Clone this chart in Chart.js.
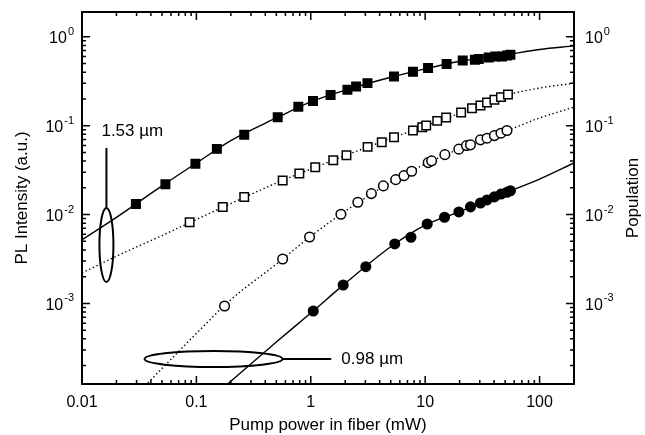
<!DOCTYPE html>
<html>
<head>
<meta charset="utf-8">
<script src="https://cdn.jsdelivr.net/npm/chart.js@4.4.0/dist/chart.umd.min.js"></script>
<style>
  html, body { margin: 0; padding: 0; background: #fff; }
</style>
</head>
<body>
<canvas id="plChart" width="645" height="435"></canvas>
<script>
// measured PL points (pump power mW, intensity a.u.)
const sqFilledP = [0.0296, 0.0536, 0.098, 0.151, 0.262, 0.514, 0.778, 1.045, 1.49, 2.09, 2.49, 3.13, 5.34, 7.82, 10.6, 15.4, 21.3, 27.2, 29.4, 35.9, 41.1, 46.9, 51.9, 55.6];
const sqFilledI = [0.0131, 0.0219, 0.0372, 0.0548, 0.0788, 0.1247, 0.163, 0.189, 0.221, 0.253, 0.276, 0.301, 0.357, 0.403, 0.444, 0.493, 0.541, 0.551, 0.561, 0.585, 0.600, 0.600, 0.616, 0.627];

const sqOpenP = [0.0873, 0.170, 0.262, 0.568, 0.794, 1.094, 1.571, 2.051, 3.139, 4.173, 5.342, 7.82, 9.43, 10.21, 12.74, 15.26, 20.62, 25.7, 30.42, 34.73, 40.29, 45.99, 52.92];
const sqOpenI = [0.00819, 0.01218, 0.01578, 0.02409, 0.02888, 0.03409, 0.04089, 0.04654, 0.05771, 0.06521, 0.07422, 0.0881, 0.0962, 0.1003, 0.1132, 0.1234, 0.1405, 0.1574, 0.1684, 0.182, 0.1952, 0.2094, 0.224];

const circOpenP = [0.1763, 0.5678, 0.976, 1.834, 2.578, 3.387, 4.31, 5.526, 6.53, 7.62, 10.63, 11.38, 14.86, 19.68, 22.97, 24.89, 30.42, 34.73, 40.29, 45.99, 51.88];
const circOpenI = [9.35e-4, 3.16e-3, 5.59e-3, 0.01008, 0.01376, 0.0172, 0.021, 0.0247, 0.0274, 0.0307, 0.0384, 0.0402, 0.0472, 0.0544, 0.0597, 0.0608, 0.0692, 0.0723, 0.0773, 0.0823, 0.0881];

const circFilledP = [1.051, 1.92, 3.027, 5.42, 7.51, 10.42, 14.77, 19.7, 24.9, 30.4, 34.7, 40.3, 46.0, 51.9, 55.6];
const circFilledI = [8.21e-4, 1.61e-3, 2.59e-3, 4.67e-3, 5.55e-3, 7.83e-3, 9.32e-3, 0.0107, 0.0122, 0.0135, 0.0146, 0.0158, 0.017, 0.0178, 0.0185];

// model curves (population)
const fitABP = [0.01, 0.02, 0.05, 0.1, 0.2, 0.5, 1, 2, 5, 10, 20, 50, 100, 200];
const fitA = [0.0052, 0.0093, 0.021, 0.038, 0.068, 0.122, 0.185, 0.25, 0.35, 0.435, 0.53, 0.625, 0.72, 0.79];
const fitB = [0.0022, 0.0034, 0.0058, 0.0088, 0.0133, 0.0226, 0.0325, 0.046, 0.072, 0.099, 0.138, 0.218, 0.265, 0.30];
const fitCP = [0.03, 0.05, 0.1, 0.2, 0.5, 1, 2, 5, 10, 20, 50, 100, 200];
const fitC = [9.5e-5, 1.85e-4, 4.6e-4, 1.1e-3, 2.77e-3, 5.7e-3, 0.0109, 0.0231, 0.037, 0.0549, 0.086, 0.122, 0.1615];
const fitDP = [0.15, 0.2, 0.5, 1, 2, 5, 10, 20, 50, 100, 200];
const fitD = [9.7e-5, 1.33e-4, 3.68e-4, 7.8e-4, 1.68e-3, 4.34e-3, 7.6e-3, 0.0108, 0.0175, 0.025, 0.038];

const xTickLabels = ['0.01', '0.1', '1', '10', '100'];
const yExponents = [-3, -2, -1, 0];

const FONT = "'Liberation Sans', Arial, Helvetica, sans-serif";

function pts(xs, ys) {
  return xs.map((x, i) => ({ x: x, y: ys[i] }));
}

function isDecade(v) {
  const l = Math.log10(v);
  return Math.abs(l - Math.round(l)) < 1e-6;
}

function markers(xs, ys, style, filled, r) {
  return {
    data: pts(xs, ys),
    showLine: false,
    pointStyle: style,
    pointRadius: r,
    pointBackgroundColor: filled ? '#000' : '#fff',
    pointBorderColor: '#000',
    pointBorderWidth: 1.5,
    order: 1,
    yAxisID: 'y'
  };
}

function curve(xs, ys, dotted) {
  return {
    data: pts(xs, ys),
    showLine: true,
    pointRadius: 0,
    borderColor: '#000',
    borderWidth: 1.4,
    borderDash: dotted ? [1.4, 2.6] : [],
    cubicInterpolationMode: 'monotone',
    order: 2,
    yAxisID: 'y2'
  };
}

// frame, inward ticks, superscript labels, titles and the two ellipse callouts
const overlay = {
  id: 'overlay',
  afterDraw(chart) {
    const { ctx, chartArea: a } = chart;
    const x = chart.scales.x, y = chart.scales.y;
    ctx.save();
    ctx.strokeStyle = '#000';
    ctx.fillStyle = '#000';

    ctx.lineWidth = 2;
    ctx.strokeRect(a.left, a.top, a.right - a.left, a.bottom - a.top);

    ctx.lineWidth = 1.5;
    ctx.beginPath();
    for (let d = -2; d <= 2; d++) {
      for (let k = 1; k <= 9; k++) {
        const v = k * Math.pow(10, d);
        if (v < x.min || v > x.max) continue;
        const px = x.getPixelForValue(v);
        const len = k === 1 ? 8 : 4;
        ctx.moveTo(px, a.bottom); ctx.lineTo(px, a.bottom - len);
        ctx.moveTo(px, a.top); ctx.lineTo(px, a.top + len);
      }
    }
    for (let d = -4; d <= 0; d++) {
      for (let k = 1; k <= 9; k++) {
        const v = k * Math.pow(10, d);
        if (v < y.min || v > y.max) continue;
        const py = y.getPixelForValue(v);
        const len = k === 1 ? 8 : 4;
        ctx.moveTo(a.left, py); ctx.lineTo(a.left + len, py);
        ctx.moveTo(a.right, py); ctx.lineTo(a.right - len, py);
      }
    }
    ctx.stroke();

    // 10^n labels on both sides
    yExponents.forEach(e => {
      const py = y.getPixelForValue(Math.pow(10, e));
      const exp = e < 0 ? '-' + (-e) : String(e);
      ctx.textBaseline = 'middle';
      ctx.font = '11px ' + FONT;
      const ew = ctx.measureText(exp).width;
      ctx.font = '16px ' + FONT;
      const bw = ctx.measureText('10').width;
      // left
      let lx = a.left - 9 - ew - bw;
      ctx.textAlign = 'left';
      ctx.fillText('10', lx, py + 2);
      ctx.font = '11px ' + FONT;
      ctx.fillText(exp, lx + bw + 1, py - 5);
      // right
      let rx = a.right + 11;
      ctx.font = '16px ' + FONT;
      ctx.fillText('10', rx, py + 2);
      ctx.font = '11px ' + FONT;
      ctx.fillText(exp, rx + bw + 1, py - 5);
    });

    // axis titles
    const midY = (a.top + a.bottom) / 2;
    ctx.font = '17px ' + FONT;
    ctx.textAlign = 'center';
    ctx.textBaseline = 'middle';
    ctx.fillText('Pump power in fiber (mW)', (a.left + a.right) / 2, 425);
    ctx.save();
    ctx.translate(22, midY);
    ctx.rotate(-Math.PI / 2);
    ctx.fillText('PL Intensity (a.u.)', 0, 0);
    ctx.restore();
    ctx.save();
    ctx.translate(633, midY);
    ctx.rotate(-Math.PI / 2);
    ctx.fillText('Population', 0, 0);
    ctx.restore();

    // 1.53 um callout
    ctx.lineWidth = 2;
    const c1x = x.getPixelForValue(0.01635), c1y = y.getPixelForValue(0.00455);
    ctx.beginPath();
    ctx.ellipse(c1x, c1y, 7, 37, 0, 0, Math.PI * 2);
    ctx.stroke();
    ctx.beginPath();
    ctx.moveTo(c1x, c1y - 37);
    ctx.lineTo(c1x, y.getPixelForValue(0.0562));
    ctx.stroke();
    ctx.textAlign = 'left';
    ctx.fillText('1.53 \u00b5m', c1x - 5, y.getPixelForValue(0.0874));

    // 0.98 um callout
    const c2x = x.getPixelForValue(0.1413), c2y = y.getPixelForValue(2.37e-4);
    ctx.beginPath();
    ctx.ellipse(c2x, c2y, 69, 8, 0, 0, Math.PI * 2);
    ctx.stroke();
    ctx.beginPath();
    ctx.moveTo(c2x + 69, c2y);
    ctx.lineTo(x.getPixelForValue(1.51), c2y);
    ctx.stroke();
    ctx.fillText('0.98 \u00b5m', x.getPixelForValue(1.85), c2y);
    ctx.restore();
  }
};

const ctx = document.getElementById('plChart').getContext('2d');
const plChart = new Chart(ctx, {
  type: 'scatter',
  data: {
    datasets: [
      curve(fitABP, fitA, false),
      curve(fitABP, fitB, true),
      curve(fitCP, fitC, true),
      curve(fitDP, fitD, false),
      markers(sqFilledP, sqFilledI, 'rect', true, 6),
      markers(sqOpenP, sqOpenI, 'rect', false, 6),
      markers(circOpenP, circOpenI, 'circle', false, 4.8),
      markers(circFilledP, circFilledI, 'circle', true, 4.8)
    ]
  },
  options: {
    responsive: false,
    animation: false,
    layout: { padding: { top: 12 } },
    plugins: { legend: { display: false }, tooltip: { enabled: false } },
    scales: {
      x: {
        type: 'logarithmic',
        min: 0.01,
        max: 200,
        position: 'bottom',
        grid: { display: false, drawTicks: false },
        border: { display: false },
        ticks: {
          autoSkip: false,
          maxRotation: 0,
          color: '#000',
          padding: 9,
          font: { family: FONT, size: 16 },
          callback: v => isDecade(v) ? xTickLabels[Math.round(Math.log10(v)) + 2] : ''
        },
        afterFit: s => { s.height = 51; }
      },
      y: {
        type: 'logarithmic',
        min: 1.24e-4,
        max: 1.9,
        position: 'left',
        grid: { display: false, drawTicks: false },
        border: { display: false },
        ticks: { display: false },
        afterFit: s => { s.width = 82; }
      },
      y2: {
        type: 'logarithmic',
        min: 1.24e-4,
        max: 1.9,
        position: 'right',
        grid: { display: false, drawTicks: false },
        border: { display: false },
        ticks: { display: false },
        afterFit: s => { s.width = 71; }
      }
    }
  },
  plugins: [overlay]
});
</script>
</body>
</html>
